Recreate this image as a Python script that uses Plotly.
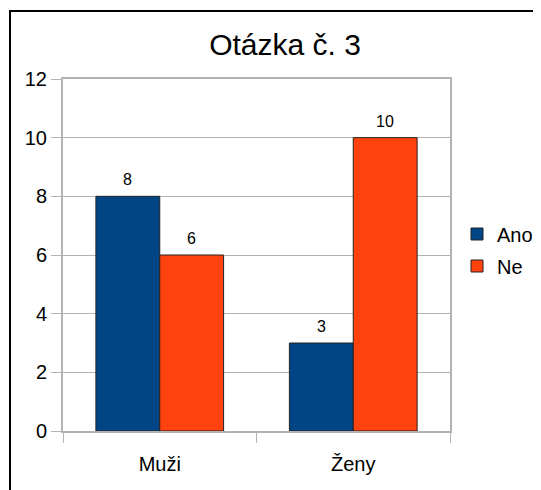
import plotly.graph_objects as go

categories = ["Muži", "Ženy"]
ano = [8, 3]
ne = [6, 10]
series_names = ["Ano", "Ne"]
title_text = "Otázka č. 3"

FONT = "Liberation Sans, Arial, sans-serif"
W, H = 533, 482  # page body has an 8px margin
fig = go.Figure()
fig.add_trace(go.Bar(name=series_names[0], x=categories, y=ano, legendgroup="a",
                     marker=dict(color="#004586", line=dict(color="#222222", width=1))))
fig.add_trace(go.Bar(name=series_names[1], x=categories, y=ne, legendgroup="b",
                     marker=dict(color="#ff420e", line=dict(color="#222222", width=1))))

annotations = []
for vals, shift in ((ano, -32), (ne, 32)):
    for c, v in zip(categories, vals):
        annotations.append(dict(x=c, y=v, xref="x", yref="y", text=str(v), showarrow=False,
                                xshift=shift, yshift=6, yanchor="bottom",
                                font=dict(family=FONT, size=16, color="#000000")))

fig.update_layout(
    width=W, height=H,
    margin=dict(l=55, r=91, t=71, b=59),
    paper_bgcolor="white", plot_bgcolor="white",
    barmode="group", bargap=0.34, bargroupgap=0,
    title=dict(text=title_text, x=277 / W, xref="container", y=1 - 36 / H, yref="container",
               xanchor="center", yanchor="middle", font=dict(family=FONT, size=30, color="#000000")),
    font=dict(family=FONT, color="#000000"),
    legend=dict(xref="container", yref="container", x=449 / W, xanchor="left",
                y=1 - 242 / H, yanchor="middle", font=dict(family=FONT, size=20),
                bgcolor="rgba(0,0,0,0)", tracegroupgap=3, itemwidth=30),
    xaxis=dict(showline=True, linecolor="#b3b3b3", linewidth=2, mirror=True,
               ticks="outside", tickson="boundaries", ticklen=10, tickcolor="#b3b3b3",
               ticklabelstandoff=14, automargin=False,
               tickfont=dict(family=FONT, size=20), showgrid=False),
    yaxis=dict(range=[0, 12], dtick=2, showline=True, linecolor="#b3b3b3", linewidth=2, mirror=True,
               ticks="outside", ticklen=10, tickcolor="#b3b3b3", gridcolor="#b3b3b3", gridwidth=1,
               ticklabelstandoff=0, automargin=False,
               tickfont=dict(family=FONT, size=20), zeroline=False),
    annotations=annotations,
    showlegend=True,
)
fig.add_shape(type="rect", xref="paper", yref="paper",
              x0=(10 - 63) / 387, x1=(560 - 63) / 387,
              y0=(431 - 520) / 352, y1=(431 - 11) / 352,
              line=dict(color="black", width=2), fillcolor="rgba(0,0,0,0)", layer="above")
fig.write_html("out.html")
